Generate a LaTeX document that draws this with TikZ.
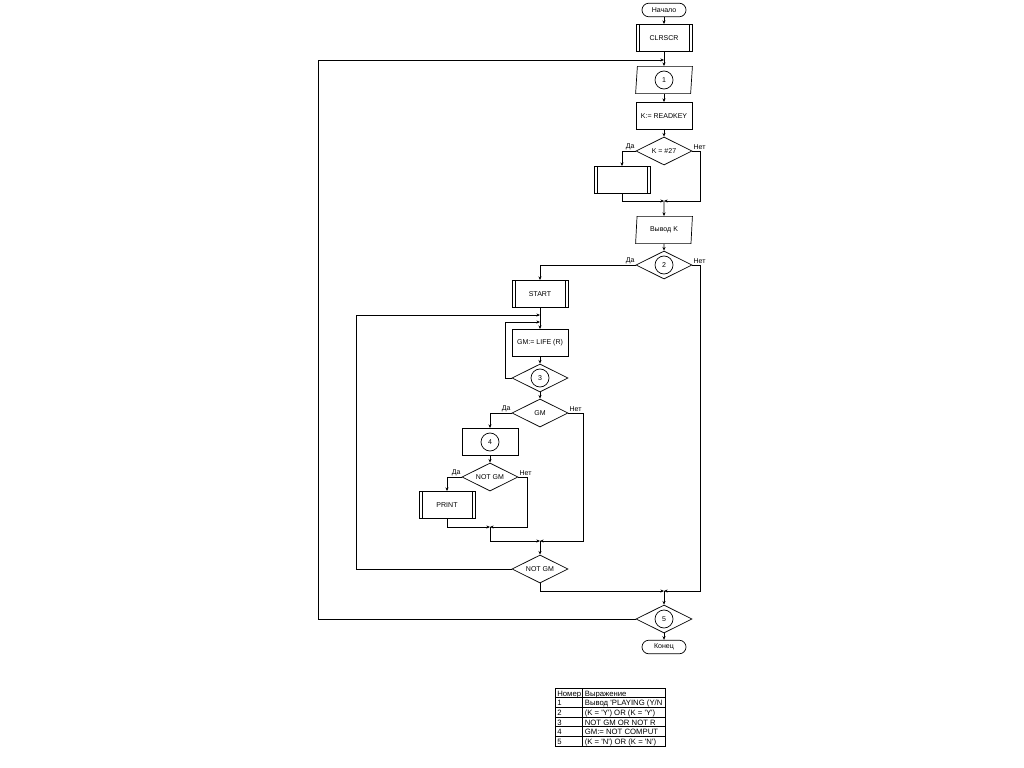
\documentclass[tikz,border=0pt]{standalone}
\usepackage{fontspec}
\setmainfont{Liberation Sans}
\usetikzlibrary{arrows.meta,shapes.geometric}

\begin{document}
\begin{tikzpicture}[x=0.025cm, y=-0.025cm, >={Stealth[length=2.6pt,width=2.2pt]}, line width=0.5pt,
    every node/.style={font=\fontsize{5}{6}\selectfont},
    proc/.style={draw, rectangle, minimum width=1.4cm, minimum height=0.68cm, inner sep=0pt},
    subr/.style={proc, path picture={
        \draw ([xshift=2.2pt]path picture bounding box.north west) -- ([xshift=2.2pt]path picture bounding box.south west);
        \draw ([xshift=-2.2pt]path picture bounding box.north east) -- ([xshift=-2.2pt]path picture bounding box.south east);}},
    io/.style={draw, trapezium, trapezium left angle=81, trapezium right angle=99, trapezium stretches body=true,
        minimum width=1.42cm, minimum height=0.68cm, inner sep=1pt},
    dec/.style={draw, diamond, aspect=2, minimum width=1.4cm, minimum height=0.7cm, inner sep=0pt},
    term/.style={draw, rectangle, rounded corners=0.17cm, minimum width=1.1cm, minimum height=0.34cm, inner sep=0pt},
    num/.style={draw, circle, minimum size=0.45cm, inner sep=0pt},
    lbl/.style={inner sep=0.6pt},
    cell/.style={anchor=base west, inner sep=0pt, font=\fontsize{5.5}{6}\selectfont}]

    % Page
    \path[use as bounding box, fill=white] (0,0) rectangle (1024,768);

    % Main column
    \node[term] (start) at (664,10) {Начало};
    \node[subr] (clrscr) at (664,38) {CLRSCR};
    \coordinate (m1) at (664,60);
    \node[io] (in1) at (664,80) {\strut};
    \node[num] (n1) at (664,80) {1};
    \node[proc] (readkey) at (664,116) {K:= READKEY};
    \node[dec] (d1) at (664,151) {K = \#27};
    \node[subr] (sub1) at (622,180) {};
    \coordinate (m2) at (664,201);
    \coordinate (k1) at (700,201);
    \node[io] (out) at (664,230) {Вывод K};
    \node[dec] (d2) at (664,265) {};
    \node[num] (n2) at (664,265) {2};

    % Game loop
    \node[subr] (startbox) at (540,294) {START};
    \coordinate (m3) at (540,315);
    \coordinate (m4) at (540,322);
    \node[proc] (gm) at (540,343) {GM:= LIFE (R)};
    \node[dec] (d3) at (540,378) {};
    \node[num] (n3) at (540,378) {3};
    \node[dec] (d4) at (540,413) {GM};
    \node[proc] (box4) at (490,442) {};
    \node[num] (n4) at (490,442) {4};
    \node[dec] (d5) at (490,477) {NOT GM};
    \node[subr] (print) at (447,505) {PRINT};
    \coordinate (m5) at (490,527);
    \coordinate (k5) at (527,527);
    \coordinate (m6) at (540,541);
    \coordinate (k4) at (583,541);
    \node[dec] (d6) at (540,569) {NOT GM};

    % End
    \coordinate (m7) at (664,591);
    \coordinate (k2) at (700,591);
    \node[dec] (d7) at (664,619) {};
    \node[num] (n5) at (664,619) {5};
    \node[term] (stop) at (664,647) {Конец};

    % Loop corners
    \coordinate (L1) at (318,60);
    \coordinate (L2) at (356,315);
    \coordinate (L3) at (505,322);

    % Arrows
    \draw[->] (start) -- (clrscr);
    \draw[->] (clrscr) -- (in1);
    \draw[->] (in1) -- (readkey);
    \draw[->] (readkey) -- (d1);
    \draw[->] (d1.west) -| (sub1.north);
    \draw[->] (d1.east) -| (k1) -- (m2);
    \draw[->] (sub1.south) |- (m2);
    \draw[->] (m2) -- (out);
    \draw[->] (out) -- (d2);
    \draw[->] (d2.west) -| (startbox.north);
    \draw[->] (d2.east) -| (k2) -- (m7);
    \draw[->] (startbox) -- (gm);
    \draw[->] (d6.west) -| (L2) -- (m3);
    \draw[->] (d3.west) -| (L3) -- (m4);
    \draw[->] (gm) -- (d3);
    \draw[->] (d3) -- (d4);
    \draw[->] (d4.west) -| (box4.north);
    \draw[->] (d4.east) -| (k4) -- (m6);
    \draw[->] (box4) -- (d5);
    \draw[->] (d5.west) -| (print.north);
    \draw[->] (d5.east) -| (k5) -- (m5);
    \draw[->] (print.south) |- (m5);
    \draw[->] (m5) |- (m6);
    \draw[->] (m6) -- (d6);
    \draw[->] (d6.south) |- (m7);
    \draw[->] (m7) -- (d7);
    \draw[->] (d7.west) -| (L1) -- (m1);
    \draw[->] (d7) -- (stop);

    % Labels
    \node[lbl, anchor=south east] (y1) at (d1.west) {Да};
    \node[lbl, anchor=south west] (no1) at (d1.east) {Нет};
    \node[lbl, anchor=south east] (y2) at (d2.west) {Да};
    \node[lbl, anchor=south west] (no2) at (d2.east) {Нет};
    \node[lbl, anchor=south east] (y4) at (d4.west) {Да};
    \node[lbl, anchor=south west] (no4) at (d4.east) {Нет};
    \node[lbl, anchor=south east] (y5) at (d5.west) {Да};
    \node[lbl, anchor=south west] (no5) at (d5.east) {Нет};

    % Table
    \begin{scope}
        \clip (555,688) rectangle (665,746);
        \node[cell] (hnum) at (557,696) {Номер};
        \node[cell] (hexp) at (584.5,696) {Выражение};
        \foreach \r in {1,...,5}
            \node[cell] (num\r) at (557,{696+\r*9.667}) {\r};
        \node[cell] (exp1) at (584.5,705.7) {Вывод \textquotesingle PLAYING (Y/N};
        \node[cell] (exp2) at (584.5,715.3) {(K = \textquotesingle Y\textquotesingle) OR (K = \textquotesingle Y\textquotesingle)};
        \node[cell] (exp3) at (584.5,725) {NOT GM OR NOT R};
        \node[cell] (exp4) at (584.5,734.7) {GM:= NOT COMPUT};
        \node[cell] (exp5) at (584.5,744.3) {(K = \textquotesingle N\textquotesingle) OR (K = \textquotesingle N\textquotesingle)};
    \end{scope}
    \draw (555,688) rectangle (665,746);
    \draw (582.5,688) -- (582.5,746);
    \foreach \r in {1,...,5}
        \draw (555,{688+\r*9.667}) -- (665,{688+\r*9.667});
\end{tikzpicture}
\end{document}
